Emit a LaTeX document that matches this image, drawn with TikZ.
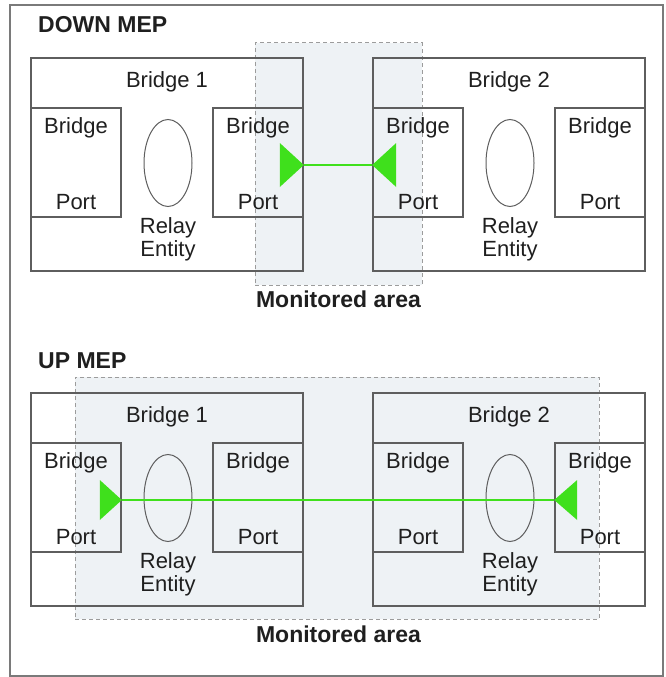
\documentclass[tikz,border=0pt]{standalone}
\usepackage{fontspec}
\setmainfont{Liberation Sans}
\usetikzlibrary{shapes.geometric,positioning}
\definecolor{boxgray}{HTML}{5E5E5E}
\definecolor{framegray}{HTML}{7A7A7A}
\definecolor{dashgray}{HTML}{9C9C9C}
\definecolor{areafill}{HTML}{EEF2F5}
\definecolor{mepgreen}{HTML}{3FE01C}
\begin{document}
\begin{tikzpicture}[x=1pt,y=-1pt,
  every node/.style={inner sep=0pt,text=black!88},
  lbl/.style={font=\fontsize{22}{22}\selectfont,anchor=base},
  heading/.style={font=\fontsize{23}{23}\selectfont\bfseries,anchor=base west},
  arealabel/.style={font=\fontsize{23}{23}\selectfont\bfseries,anchor=base},
  area/.style={draw=dashgray,fill=areafill,line width=1pt,dash pattern=on 4pt off 3pt,minimum height=242pt},
  bridgebox/.style={draw=boxgray,line width=1.6pt,minimum width=272pt,minimum height=213pt},
  portbox/.style={draw=boxgray,line width=1.6pt,minimum width=90pt,minimum height=109pt},
  relay/.style={draw=boxgray,ellipse,line width=1pt,minimum width=48pt,minimum height=87pt},
  mep/.style={draw=mepgreen,line width=2pt},
  meptip/.style={fill=mepgreen}]
\useasboundingbox (0,0) rectangle (666,677);
\draw[framegray,line width=1.5pt] (10,5) rectangle (663,676);

% titles and monitored areas
\node[heading] (downtitle) at (38,33) {DOWN MEP};
\node[heading] (uptitle) at (38,368) {UP MEP};
\node[area,minimum width=167pt] (downarea) at (338.5,164) {};
\node[area,minimum width=524pt] (uparea) at (337,498) {};
\node[arealabel] (downlabel) at (338.5,307) {Monitored area};
\node[arealabel] (uplabel) at (338.5,642) {Monitored area};

% the two bridges, drawn for both cases
\foreach \s/\dy in {down/0,up/335}{
  \foreach \b/\bx in {1/167,2/509}{
    \begin{scope}[shift={(\bx,\dy)}]
      \node[bridgebox] (\s-b\b) at (0,164.5) {};
      \node[lbl] (\s-b\b-name) at (0,87) {Bridge \b};
      \foreach \p/\px in {pl/-91,pr/91}{
        \node[portbox] (\s-b\b-\p) at (\px,162.5) {};
        \node[lbl] (\s-b\b-\p-top) at (\px,133) {Bridge};
        \node[lbl] (\s-b\b-\p-bot) at (\px,209) {Port};
      }
      \node[relay] (\s-b\b-relay) at (1,163) {};
      \node[lbl] (\s-b\b-relay1) at (1,233) {Relay};
      \node[lbl] (\s-b\b-relay2) at (1,256) {Entity};
    \end{scope}
  }
}

% MEP connections
\coordinate (downA) at ([yshift=-2.5pt]down-b1-pr.east);
\coordinate (downB) at ([yshift=-2.5pt]down-b2-pl.west);
\draw[mep] (downA) -- (downB);
\fill[meptip] (downA) -- ++(-24,-22) -- ++(0,44) -- cycle;
\fill[meptip] (downB) -- ++(24,-22) -- ++(0,44) -- cycle;

\coordinate (upA) at ([yshift=-2.5pt]up-b1-pl.east);
\coordinate (upB) at ([yshift=-2.5pt]up-b2-pr.west);
\draw[mep] (upA) -- (upB);
\fill[meptip] (upA) -- ++(-22,-20) -- ++(0,40) -- cycle;
\fill[meptip] (upB) -- ++(23,-20) -- ++(0,40) -- cycle;
\end{tikzpicture}
\end{document}
